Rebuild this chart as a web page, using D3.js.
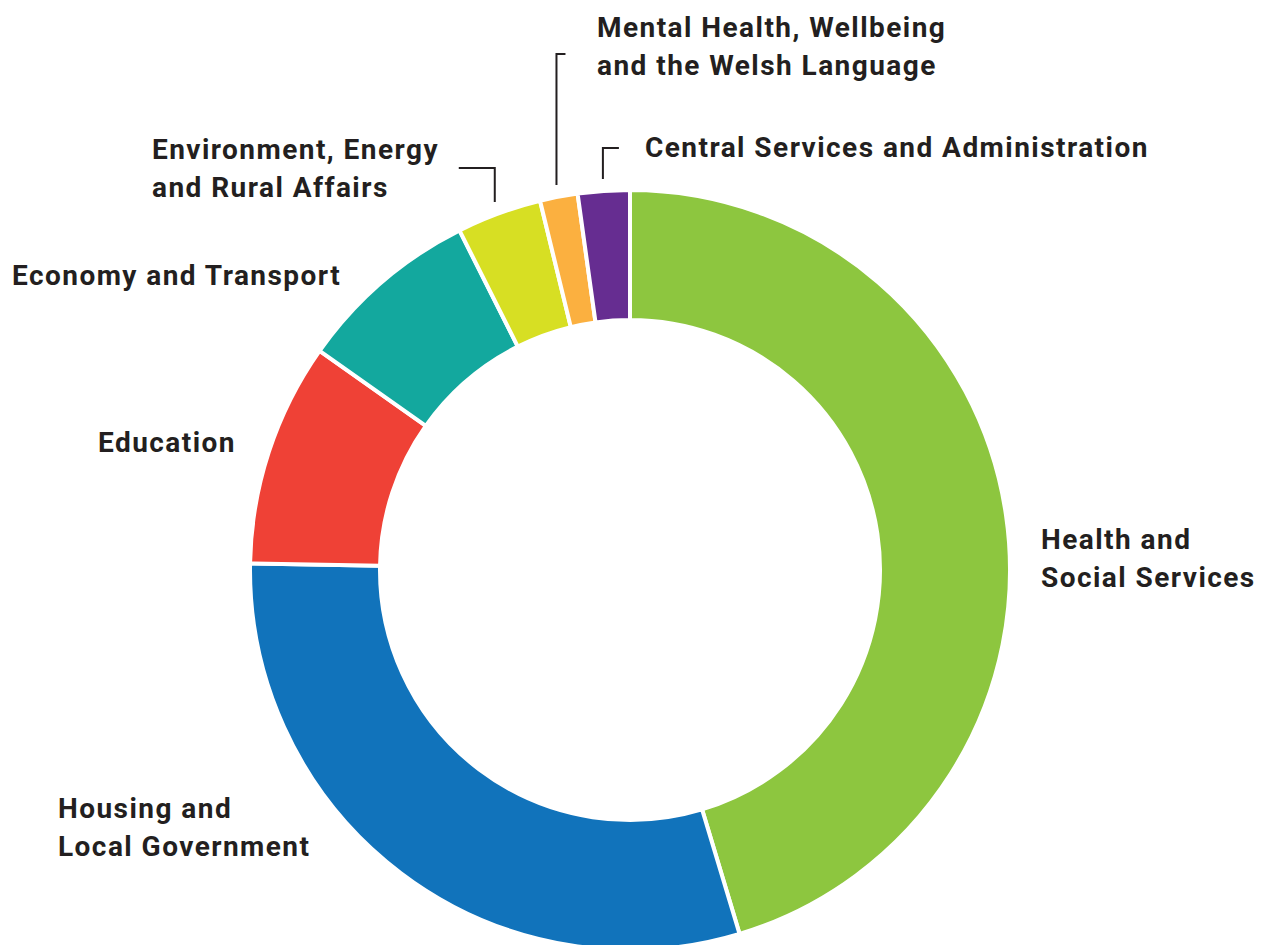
<!DOCTYPE html>
<html>
<head>
<meta charset="utf-8">
<script src="https://cdn.jsdelivr.net/npm/d3@7"></script>
<style>
  body { margin: 0; background: #fff; }
  .label { font-family: Roboto, "Liberation Sans", sans-serif; font-weight: 700; font-size: 28px; letter-spacing: 1.45px; fill: #231f20; }
</style>
</head>
<body>
<div class="chart"></div>
<script>
var svgWidth = 1269;
var svgHeight = 945;

// budget share by portfolio (%), clockwise from 12 o'clock
var categories = [
  "Health and Social Services",
  "Housing and Local Government",
  "Education",
  "Economy and Transport",
  "Environment, Energy and Rural Affairs",
  "Mental Health, Wellbeing and the Welsh Language",
  "Central Services and Administration"
];
var values = [45.3, 29.9, 9.5, 7.8, 3.6, 1.6, 2.2];
var colors = ["#8dc63f", "#1173bb", "#ef4136", "#13a89e", "#d7df23", "#fbb040", "#662d91"];

// label lines for each slice
var labelLines = [
  ["Health and", "Social Services"],
  ["Housing and", "Local Government"],
  ["Education"],
  ["Economy and Transport"],
  ["Environment, Energy", "and Rural Affairs"],
  ["Mental Health, Wellbeing", "and the Welsh Language"],
  ["Central Services and Administration"]
];

var cx = 630, cy = 570;
var outerR = 380, innerR = 250;

var svg = d3.select(".chart")
  .append("svg")
  .attr("width", svgWidth)
  .attr("height", svgHeight);

var chartGroup = svg.append("g")
  .attr("transform", `translate(${cx}, ${cy})`);

var data = categories.map((c, i) => ({ name: c, value: values[i], color: colors[i], lines: labelLines[i] }));

var pie = d3.pie()
  .value(d => d.value)
  .sort(null);

var arc = d3.arc()
  .innerRadius(innerR)
  .outerRadius(outerR);

var arcs = pie(data);

chartGroup.selectAll("path")
  .data(arcs)
  .enter()
  .append("path")
  .attr("d", arc)
  .attr("fill", d => d.data.color)
  .attr("stroke", "#fff")
  .attr("stroke-width", 4)
  .attr("stroke-linejoin", "miter");

// label anchors (text left x, first baseline) in page coords
var labelPos = [
  [1041, 549],
  [58, 818],
  [98, 452],
  [12, 285],
  [152, 159],
  [597, 37],
  [645, 157]
];

var lineHeight = 38;

var labelGroup = svg.append("g");

data.forEach((d, i) => {
  var t = labelGroup.append("text")
    .attr("class", "label")
    .attr("x", labelPos[i][0])
    .attr("y", labelPos[i][1]);
  d.lines.forEach((ln, j) => {
    t.append("tspan")
      .attr("x", labelPos[i][0])
      .attr("dy", j === 0 ? 0 : lineHeight)
      .text(ln);
  });
});

// leader lines for the three small slices
var mid = a => (a.startAngle + a.endAngle) / 2;
var leaderR = 392;
function edge(a) {
  var m = mid(a);
  return [cx + leaderR * Math.sin(m), cy - leaderR * Math.cos(m)];
}

var leaderGroup = svg.append("g")
  .attr("fill", "none")
  .attr("stroke", "#231f20")
  .attr("stroke-width", 2);

// Environment: elbow going left from the top
var pEnv = edge(arcs[4]);
leaderGroup.append("path")
  .attr("d", `M${pEnv[0] - 36},168 H${pEnv[0]} V${pEnv[1]}`);

// Mental Health: tall elbow going right
var pMh = edge(arcs[5]);
leaderGroup.append("path")
  .attr("d", `M${pMh[0] + 9},54 H${pMh[0]} V${pMh[1]}`);

// Central Services: short elbow going right
var pCs = edge(arcs[6]);
leaderGroup.append("path")
  .attr("d", `M${pCs[0] + 16},148 H${pCs[0]} V${pCs[1]}`);
</script>
</body>
</html>
